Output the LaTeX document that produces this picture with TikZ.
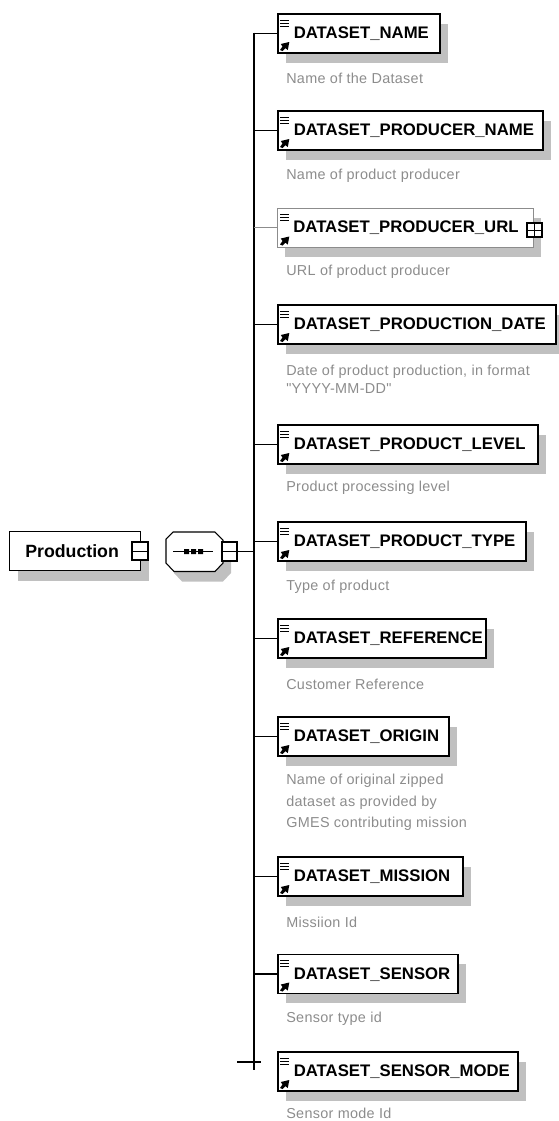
\documentclass[tikz,border=0pt]{standalone}
\usepackage{fontspec}
\setmainfont{Liberation Sans}
\newfontfamily\descfont[LetterSpace=2.2]{Liberation Sans}
\usetikzlibrary{shadows}
\definecolor{shadowgrey}{HTML}{C0C0C0}
\definecolor{descgrey}{HTML}{8C8C8C}
\tikzset{
  dropgrey/.style={drop shadow={shadow xshift=6pt,shadow yshift=-7.5pt,fill=shadowgrey,opacity=1}},
  elembox/.style={draw=black,line width=1.2pt,fill=white,dropgrey,anchor=north west,inner xsep=0pt,inner ysep=0pt,
    minimum height=29.25pt,text width=#1*.75pt-.75pt,align=left,font=\bfseries\fontsize{12.55}{14}\selectfont,
    execute at begin node={\vspace*{-1pt}\hspace*{12pt}}},
  optbox/.style={elembox=#1,draw=black!45,line width=.5pt},
  desc/.style={anchor=west,inner sep=0pt,text=descgrey,align=left,font=\descfont\fontsize{10.8}{13.7}\selectfont},
  toggle/.style={draw=black,line width=1.5pt,fill=white,inner sep=0pt,minimum width=11.5pt,minimum height=14pt},
  branch/.style={line width=1.1pt},
  pics/elemicons/.style={code={
    \draw[line width=.6pt] (3,7) -- (12,7) (3,10) -- (12,10) (3,13) -- (12,13);
    \fill (3,37) -- (5.5,33.5) -- (3.8,31) -- (12.3,29) -- (10.8,37) -- (8.4,35.2) -- (5.5,38) -- cycle;
  }}
}
\begin{document}
\begin{tikzpicture}[x=.75pt,y=-.75pt]
  \useasboundingbox (0,0) rectangle (559,1121);
  % left part
  \node [draw=black,line width=.9pt,fill=white,dropgrey,anchor=north west,minimum width=98.25pt,minimum height=29.25pt,
    inner sep=0pt,font=\bfseries\fontsize{13.3}{15}\selectfont] (production) at (9,531) {\hspace*{-4.5pt}Production};
  \node [toggle] (production_minus) at (140,551) {};
  \draw [line width=.5pt] (production_minus.west) -- (production_minus.east);
  \draw [line width=.8pt,fill=white,dropgrey] (166,539) -- (173,532) -- (215,532) -- (223,540) -- (223,563) -- (215,571.5) -- (174,571.5) -- (166,563) -- cycle;
  \draw [line width=.6pt] (173,551.5) -- (213,551.5);
  \fill (184,549) rectangle (189,554) (191,549) rectangle (196,554) (198,549) rectangle (203,554);
  \node [toggle] (seq_minus) at (229.5,551.5) {};
  \draw [line width=.5pt] (seq_minus.west) -- (seq_minus.east);
  % trunk
  \coordinate (trunk_top) at (254,32.5);
  \coordinate (trunk_bot) at (254,1070);
  \coordinate (tick_l) at (237,1062);
  \coordinate (tick_r) at (261,1062);
  % element boxes
  \node [elembox=163] (name) at (277,13) {DATASET\_NAME};
  \node [elembox=266] (producer_name) at (277,110) {DATASET\_PRODUCER\_NAME};
  \node [optbox=257] (producer_url) at (277,207.5) {DATASET\_PRODUCER\_URL};
  \node [elembox=279] (prod_date) at (277,304) {DATASET\_PRODUCTION\_DATE};
  \node [elembox=261] (prod_level) at (277,424) {DATASET\_PRODUCT\_LEVEL};
  \node [elembox=249] (prod_type) at (277,521) {DATASET\_PRODUCT\_TYPE};
  \node [elembox=209] (reference) at (277,618) {DATASET\_REFERENCE};
  \node [elembox=172] (origin) at (277,716) {DATASET\_ORIGIN};
  \node [elembox=186] (mission) at (277,856) {DATASET\_MISSION};
  \node [elembox=181] (sensor) at (277,953.5) {DATASET\_SENSOR};
  \node [elembox=241] (sensor_mode) at (277,1051) {DATASET\_SENSOR\_MODE};
  \pic at (name.north west) {elemicons};
  \pic at (producer_name.north west) {elemicons};
  \pic at (producer_url.north west) {elemicons};
  \pic at (prod_date.north west) {elemicons};
  \pic at (prod_level.north west) {elemicons};
  \pic at (prod_type.north west) {elemicons};
  \pic at (reference.north west) {elemicons};
  \pic at (origin.north west) {elemicons};
  \pic at (mission.north west) {elemicons};
  \pic at (sensor.north west) {elemicons};
  \pic at (sensor_mode.north west) {elemicons};
  \node [toggle,minimum height=11pt] (url_plus) at (534.5,230) {};
  \draw [line width=.5pt] (url_plus.west) -- (url_plus.east) (url_plus.north) -- (url_plus.south);
  % descriptions
  \node [desc] (name_d) at (286,78) {Name of the Dataset};
  \node [desc] (producer_name_d) at (286,176) {Name of product producer};
  \node [desc] (producer_url_d) at (286,272) {URL of product producer};
  \node [desc] (prod_date_d) at (286,379.5) {Date of product production, in format\\"YYYY-MM-DD"};
  \node [desc] (prod_level_d) at (286,488) {Product processing level};
  \node [desc] (prod_type_d) at (286,587) {Type of product};
  \node [desc] (reference_d) at (286,684) {Customer Reference};
  \node [desc] (origin_d) at (286,802.5) {Name of original zipped\\[2.3pt]dataset as provided by\\[2.3pt]GMES contributing mission};
  \node [desc] (mission_d) at (286,922) {Missiion Id};
  \node [desc] (sensor_d) at (286,1019) {Sensor type id};
  \node [desc] (sensor_mode_d) at (286,1113) {Sensor mode Id};
  % connectors
  \path (trunk_top) edge [branch] (trunk_bot);
  \path (tick_l) edge [branch] (tick_r);
  \path (seq_minus.east) edge [branch] (seq_minus.east -| trunk_top);
  \path (name.west) edge [branch] (name.west -| trunk_top);
  \path (producer_name.west) edge [branch] (producer_name.west -| trunk_top);
  \path (producer_url.west) edge [draw=black!45,line width=.5pt] (producer_url.west -| trunk_top);
  \path (prod_date.west) edge [branch] (prod_date.west -| trunk_top);
  \path (prod_level.west) edge [branch] (prod_level.west -| trunk_top);
  \path (prod_type.west) edge [branch] (prod_type.west -| trunk_top);
  \path (reference.west) edge [branch] (reference.west -| trunk_top);
  \path (origin.west) edge [branch] (origin.west -| trunk_top);
  \path (mission.west) edge [branch] (mission.west -| trunk_top);
  \path (sensor.west) edge [branch] (sensor.west -| trunk_top);
\end{tikzpicture}
\end{document}
